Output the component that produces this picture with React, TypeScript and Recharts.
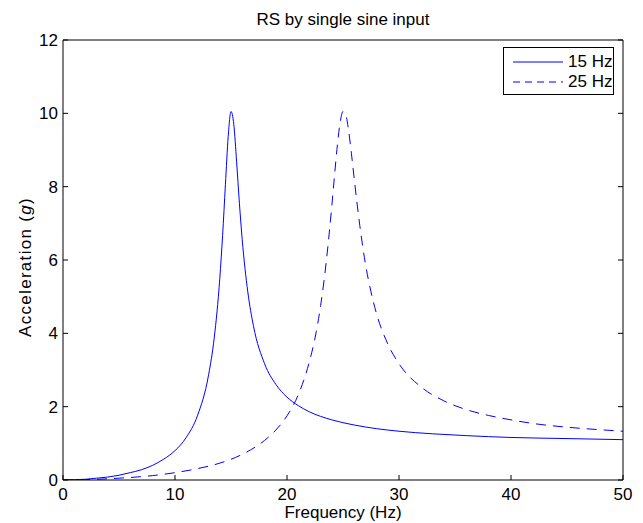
import { Label, Legend, Line, LineChart, XAxis, YAxis } from "recharts";

const FREQ_15 = [0, 1, 2, 3, 4, 5, 6, 7, 8, 9, 10, 11, 12, 13, 13.5, 14, 14.25, 14.5, 14.75, 15, 15.25, 15.5, 15.75, 16, 16.5, 17, 18, 19, 20, 21, 22, 24, 26, 28, 30, 33, 36, 40, 45, 50];
const ACC_15 = [0, 0.01, 0.02, 0.05, 0.08, 0.13, 0.2, 0.28, 0.4, 0.57, 0.8, 1.16, 1.75, 2.87, 3.87, 5.5, 6.67, 8.05, 9.37, 10.05, 9.7, 8.68, 7.55, 6.56, 5.13, 4.21, 3.17, 2.61, 2.26, 2.03, 1.86, 1.64, 1.5, 1.4, 1.33, 1.26, 1.21, 1.16, 1.13, 1.1];

const FREQ_25 = [0, 2, 5, 8, 10, 12, 14, 16, 18, 19, 20, 21, 22, 22.5, 23, 23.5, 24, 24.25, 24.5, 24.75, 25, 25.25, 25.5, 25.75, 26, 26.5, 27, 27.5, 28, 29, 30, 32, 34, 36, 38, 40, 42, 45, 48, 50];
const ACC_25 = [0, 0.01, 0.05, 0.12, 0.2, 0.31, 0.46, 0.7, 1.08, 1.36, 1.75, 2.32, 3.23, 3.87, 4.75, 5.94, 7.47, 8.33, 9.14, 9.76, 10.05, 9.96, 9.53, 8.91, 8.22, 6.94, 5.9, 5.13, 4.53, 3.71, 3.17, 2.53, 2.16, 1.92, 1.76, 1.64, 1.54, 1.44, 1.37, 1.33];

const X_TICKS = [0, 10, 20, 30, 40, 50];
const Y_TICKS = [0, 2, 4, 6, 8, 10, 12];

const SERIES = [
  { name: "15 Hz", dash: undefined as string | undefined },
  { name: "25 Hz", dash: "7 5" },
];

const FONT = "'Liberation Sans', Arial, Helvetica, sans-serif";
const BLUE = "#0000ff";
const TEXT_STYLE = { fontFamily: FONT, fontSize: 17, fill: "#000" };

const rows15 = FREQ_15.map((f, i) => ({ f, a: ACC_15[i] }));
const rows25 = FREQ_25.map((f, i) => ({ f, a: ACC_25[i] }));

// all four axes are mirrored so the tick marks point into the plot (matlab style);
// the labels are pushed back outside by these renderers
function BottomTick({ x, y, payload }: any) {
  return (
    <text x={x} y={y + 25} textAnchor="middle" style={TEXT_STYLE}>
      {payload.value}
    </text>
  );
}

function LeftTick({ x, y, payload }: any) {
  return (
    <text x={x - 10} y={y} dy="0.36em" textAnchor="end" style={TEXT_STYLE}>
      {payload.value}
    </text>
  );
}

const NoTick = () => <g />;

function BoxLegend() {
  return (
    <div
      style={{
        border: "1px solid #000",
        background: "#fff",
        width: 109,
        height: 46,
        fontFamily: FONT,
        fontSize: 17,
        color: "#000",
      }}
    >
      {SERIES.map((s) => (
        <div key={s.name} style={{ display: "flex", alignItems: "center", height: 20, marginTop: s.dash ? 0 : 4 }}>
          <svg width={64} height={20} style={{ display: "block" }}>
            <line x1={9} x2={59} y1={10} y2={10} stroke={BLUE} strokeWidth={1} strokeDasharray={s.dash} />
          </svg>
          <span style={{ lineHeight: "20px" }}>{s.name}</span>
        </div>
      ))}
    </div>
  );
}

export default function App() {
  return (
    <div style={{ position: "absolute", left: 0, top: 0, background: "#fff" }}>
      <LineChart width={643} height={523} margin={{ top: 40, right: 20, bottom: 43, left: 63 }}>
        <XAxis
          dataKey="f"
          type="number"
          domain={[0, 50]}
          ticks={X_TICKS}
          height={5}
          mirror
          tickSize={5}
          tickMargin={0}
          tick={<BottomTick />}
          stroke="#000"
          interval={0}
          allowDataOverflow
        >
          <Label
            content={({ viewBox }: any) => (
              <text x={viewBox.x + viewBox.width / 2} y={viewBox.y + viewBox.height + 38} textAnchor="middle" style={TEXT_STYLE}>
                Frequency (Hz)
              </text>
            )}
          />
        </XAxis>
        <XAxis
          xAxisId="top"
          orientation="top"
          type="number"
          domain={[0, 50]}
          ticks={X_TICKS}
          height={5}
          mirror
          tickSize={5}
          tick={NoTick}
          stroke="#000"
          interval={0}
          allowDataOverflow
        >
          <Label
            content={({ viewBox }: any) => (
              <text x={viewBox.x + viewBox.width / 2} y={viewBox.y - 15} textAnchor="middle" style={TEXT_STYLE}>
                RS by single sine input
              </text>
            )}
          />
        </XAxis>
        <YAxis
          type="number"
          domain={[0, 12]}
          ticks={Y_TICKS}
          width={5}
          mirror
          tickSize={5}
          tickMargin={0}
          tick={<LeftTick />}
          stroke="#000"
          interval={0}
          allowDataOverflow
        >
          <Label
            content={({ viewBox }: any) => {
              const cx = 25;
              const cy = viewBox.y + viewBox.height / 2 + 7;
              return (
                <text
                  x={cx}
                  y={cy}
                  transform={`rotate(-90 ${cx} ${cy})`}
                  textAnchor="middle"
                  dy="0.36em"
                  style={{ ...TEXT_STYLE, letterSpacing: 1.3 }}
                >
                  Acceleration (<tspan fontStyle="italic">g</tspan>)
                </text>
              );
            }}
          />
        </YAxis>
        <YAxis
          yAxisId="right"
          orientation="right"
          type="number"
          domain={[0, 12]}
          ticks={Y_TICKS}
          width={5}
          mirror
          tickSize={5}
          tick={NoTick}
          stroke="#000"
          interval={0}
          allowDataOverflow
        />
        <Legend
          layout="horizontal"
          align="center"
          verticalAlign="middle"
          content={() => <BoxLegend />}
          wrapperStyle={{ position: "absolute", left: 503, top: 47, width: "auto", height: "auto" }}
        />
        <Line
          data={rows15}
          dataKey="a"
          name="15 Hz"
          type="monotone"
          stroke={BLUE}
          strokeWidth={1}
          dot={false}
          activeDot={false}
          isAnimationActive={false}
        />
        <Line
          data={rows25}
          dataKey="a"
          name="25 Hz"
          type="monotone"
          stroke={BLUE}
          strokeWidth={1}
          strokeDasharray="10 7"
          dot={false}
          activeDot={false}
          isAnimationActive={false}
        />
      </LineChart>
    </div>
  );
}
